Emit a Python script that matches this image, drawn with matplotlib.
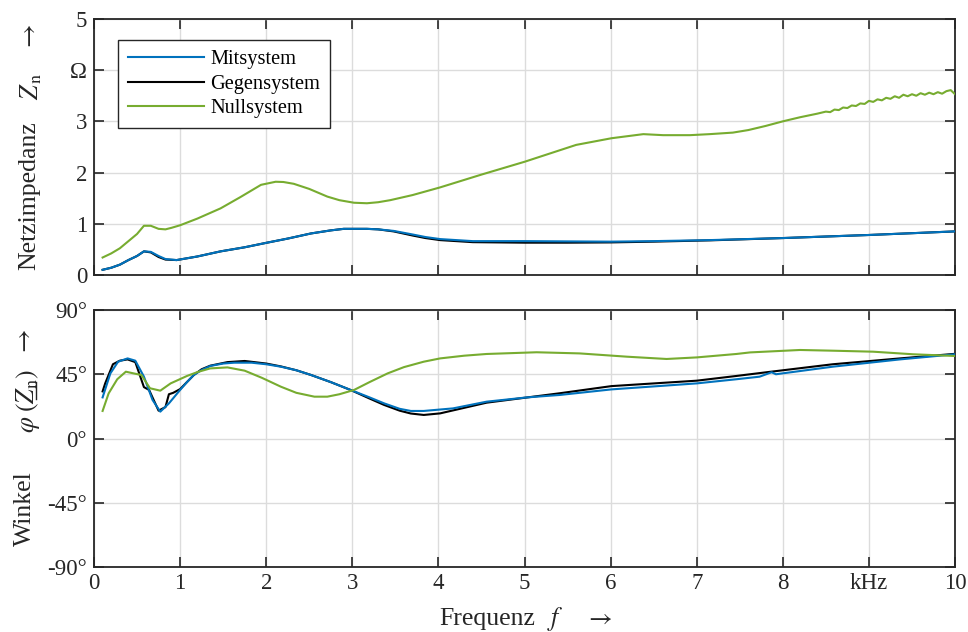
import matplotlib
matplotlib.use("Agg")
import matplotlib.pyplot as plt
from matplotlib.lines import Line2D

plt.rcParams['font.family'] = ['Liberation Serif', 'DejaVu Serif']
plt.rcParams['mathtext.fontset'] = 'stix'

# ---- data ----
# magnitude, Mitsystem / Gegensystem (kHz, Ohm)
f_mag = [0.1, 0.2, 0.3, 0.4, 0.5, 0.58, 0.66, 0.75, 0.83, 0.96, 1.2, 1.47, 1.75, 2.01,
         2.25, 2.52, 2.75, 2.9, 3.17, 3.3, 3.48, 3.7, 3.85, 4.02, 4.4, 5.0, 5.5, 6.0,
         6.5, 7.15, 8.0, 9.0, 10.0]
z_mit = [0.10, 0.14, 0.20, 0.29, 0.37, 0.46, 0.45, 0.37, 0.31, 0.29, 0.36, 0.46, 0.54, 0.63,
         0.71, 0.81, 0.87, 0.90, 0.90, 0.89, 0.86, 0.79, 0.74, 0.70, 0.66, 0.66, 0.655, 0.65,
         0.66, 0.68, 0.72, 0.78, 0.85]
z_geg = [0.10, 0.14, 0.20, 0.29, 0.37, 0.46, 0.44, 0.35, 0.30, 0.29, 0.36, 0.46, 0.54, 0.63,
         0.71, 0.81, 0.87, 0.90, 0.90, 0.89, 0.85, 0.77, 0.72, 0.68, 0.64, 0.63, 0.63, 0.635,
         0.65, 0.675, 0.72, 0.78, 0.85]

# magnitude, Nullsystem
f_null = [0.1, 0.2, 0.3, 0.4, 0.5, 0.58, 0.66, 0.75, 0.83, 0.9, 1.0, 1.2, 1.47, 1.7, 1.94,
          2.11, 2.2, 2.32, 2.5, 2.71, 2.85, 3.02, 3.17, 3.3, 3.44, 3.7, 4.02, 4.5, 5.0, 5.6,
          6.01, 6.38, 6.61, 6.92, 7.15, 7.42, 7.6, 7.8, 8.0, 8.2, 8.4, 8.5, 8.55, 8.6, 8.65,
          8.7, 8.75, 8.8, 8.85, 8.9, 8.95, 9.0, 9.05, 9.1, 9.15, 9.2, 9.25, 9.3, 9.35, 9.4,
          9.45, 9.5, 9.55, 9.6, 9.65, 9.7, 9.75, 9.8, 9.85, 9.9, 9.95, 10.0]
z_null = [0.34, 0.42, 0.52, 0.66, 0.80, 0.96, 0.96, 0.90, 0.89, 0.92, 0.97, 1.10, 1.30, 1.52,
          1.76, 1.82, 1.815, 1.78, 1.68, 1.53, 1.46, 1.41, 1.40, 1.42, 1.46, 1.56, 1.71, 1.96,
          2.21, 2.54, 2.67, 2.75, 2.73, 2.73, 2.75, 2.78, 2.83, 2.91, 3.00, 3.08, 3.15, 3.19,
          3.18, 3.23, 3.22, 3.27, 3.26, 3.31, 3.30, 3.35, 3.34, 3.40, 3.38, 3.43, 3.41, 3.46,
          3.44, 3.49, 3.46, 3.52, 3.49, 3.53, 3.50, 3.55, 3.52, 3.56, 3.53, 3.57, 3.54, 3.59,
          3.61, 3.53]

# phase angle (degrees)
f_ph_mit = [0.1, 0.19, 0.28, 0.39, 0.48, 0.58, 0.68, 0.77, 0.87, 1.0, 1.08, 1.16, 1.25, 1.35,
            1.5, 1.63, 1.83, 2.0, 2.17, 2.35, 2.52, 2.75, 2.98, 3.2, 3.37, 3.55, 3.68, 3.83,
            4.17, 4.56, 5.03, 5.41, 6.01, 7.0, 7.46, 7.73, 7.87, 7.92, 8.58, 9.36, 10.0]
ph_mit = [28.8, 45.6, 53.8, 56.1, 54.5, 43.3, 27.0, 18.8, 24.6, 34.0, 39.5, 44.5, 48.0, 50.8,
          52.5, 53.1, 53.1, 52.0, 50.3, 47.8, 44.5, 39.5, 34.0, 28.8, 24.6, 20.8, 19.3, 19.3,
          21.1, 25.8, 28.8, 30.5, 34.4, 38.6, 41.5, 43.3, 46.4, 45.0, 50.3, 55.4, 59.0]

f_ph_geg = [0.1, 0.13, 0.22, 0.3, 0.39, 0.48, 0.58, 0.64, 0.75, 0.83, 0.87, 0.92, 1.0, 1.16,
            1.25, 1.35, 1.55, 1.75, 2.0, 2.17, 2.35, 2.52, 2.75, 2.98, 3.2, 3.37, 3.55, 3.68,
            3.83, 4.02, 4.56, 5.41, 6.01, 7.0, 7.46, 7.81, 8.58, 9.36, 10.0]
ph_geg = [33.0, 38.6, 52.0, 54.5, 55.4, 53.5, 36.0, 34.0, 19.5, 22.0, 31.0, 32.0, 34.6, 44.5,
          48.5, 51.0, 53.5, 54.3, 52.5, 50.5, 47.8, 44.5, 39.5, 34.0, 28.0, 23.5, 19.5, 17.5,
          16.5, 17.6, 25.1, 31.7, 36.7, 40.5, 43.8, 46.4, 52.0, 56.1, 59.3]

f_ph_null = [0.1, 0.17, 0.27, 0.37, 0.46, 0.55, 0.65, 0.77, 0.89, 1.08, 1.2, 1.35, 1.55,
             1.75, 1.95, 2.17, 2.35, 2.56, 2.71, 2.85, 3.02, 3.2, 3.41, 3.6, 3.83, 4.02, 4.3,
             4.56, 5.14, 5.64, 6.19, 6.65, 7.0, 7.46, 7.62, 8.2, 8.58, 9.05, 9.51, 10.0]
ph_null = [19.3, 31.6, 41.5, 46.8, 45.6, 44.5, 35.2, 33.5, 38.6, 43.8, 46.5, 49.1, 49.8,
           47.5, 42.5, 36.3, 32.0, 29.3, 29.3, 31.0, 34.0, 39.5, 45.6, 50.0, 53.8, 56.1, 58.0,
           59.2, 60.4, 59.6, 57.3, 55.7, 56.8, 59.2, 60.3, 62.0, 61.5, 60.8, 59.0, 57.8]

x_ticks = [0, 1, 2, 3, 4, 5, 6, 7, 8, 9, 10]
x_ticklabels = ['0', '1', '2', '3', '4', '5', '6', '7', '8', 'kHz', '10']
z_ticks = [0, 1, 2, 3, 4, 5]
z_ticklabels = ['0', '1', '2', '3', 'Ω', '5']
ph_ticks = [-90, -45, 0, 45, 90]
ph_ticklabels = ['-90°', '-45°', '0°', '45°', '90°']

c_mit = '#0072BD'
c_geg = '#000000'
c_null = '#77AC30'
c_txt = '#262626'

W, H = 968, 632
fig = plt.figure(figsize=(W / 100, H / 100), dpi=100)
ax1 = fig.add_axes([0.0971, 0.565, 0.8895, 0.405])
ax2 = fig.add_axes([0.0971, 0.1028, 0.8895, 0.4067])

ax1.plot(f_mag, z_geg, color=c_geg, lw=1.5, zorder=2)
l1, = ax1.plot(f_mag, z_mit, color=c_mit, lw=1.5, zorder=3)
l3, = ax1.plot(f_null, z_null, color=c_null, lw=1.5, zorder=3)
l2, = ax1.plot([], [], color=c_geg, lw=1.5)

ax2.plot(f_ph_geg, ph_geg, color=c_geg, lw=1.5, zorder=2)
ax2.plot(f_ph_mit, ph_mit, color=c_mit, lw=1.5, zorder=3)
ax2.plot(f_ph_null, ph_null, color=c_null, lw=1.5, zorder=3)

for ax in (ax1, ax2):
    ax.set_xlim(0, 10)
    ax.set_xticks(x_ticks)
    ax.grid(True, color='#dcdcdc', lw=1.0)
    ax.set_axisbelow(True)
    ax.tick_params(direction='in', length=7, width=1.2, top=True, right=True,
                   labelsize=16.5, colors=c_txt, pad=5)
    for s in ax.spines.values():
        s.set_color(c_txt)
        s.set_linewidth(1.3)

ax1.set_ylim(0, 5)
ax1.set_yticks(z_ticks)
ax1.set_yticklabels(z_ticklabels)
ax1.tick_params(labelbottom=False)

ax2.set_ylim(-90, 90)
ax2.set_yticks(ph_ticks)
ax2.set_yticklabels(ph_ticklabels)
ax2.set_xticklabels(x_ticklabels)
ax2.tick_params(axis='x', pad=4)


# axis labels placed piece by piece (pixel positions of the reference)
def ftext(px, py, s, rot=0):
    fig.text(px / W, 1 - py / H, s, rotation=rot, ha='center', va='center',
             fontsize=18.5, color=c_txt)


ftext(29, 196, 'Netzimpedanz', 90)
ftext(31, 86, r'$Z_{\,\mathrm{n}}$', 90)
ftext(30, 37, r'$\rightarrow$', 90)

ftext(25, 509, 'Winkel', 90)
ftext(28, 401, r'$\varphi\;(Z_{\mathrm{n}})$', 90)
ftext(25, 342, r'$\rightarrow$', 90)
fig.add_artist(Line2D([36 / W, 36 / W], [1 - 399 / H, 1 - 382 / H], color=c_txt, lw=1.0))

ftext(487, 619, 'Frequenz')
ftext(555, 619, r'$f$')
ftext(599, 619, r'$\rightarrow$')

leg = ax1.legend([l1, l2, l3], ['Mitsystem', 'Gegensystem', 'Nullsystem'],
                 loc='upper left', bbox_to_anchor=(0.028, 0.918), borderaxespad=0,
                 fontsize=14.7, handlelength=3.7, labelspacing=0.25, handletextpad=0.3,
                 fancybox=False, framealpha=1, borderpad=0.5)
leg.get_frame().set_edgecolor(c_txt)
leg.get_frame().set_linewidth(1.0)

fig.savefig('out.png', dpi=100)
